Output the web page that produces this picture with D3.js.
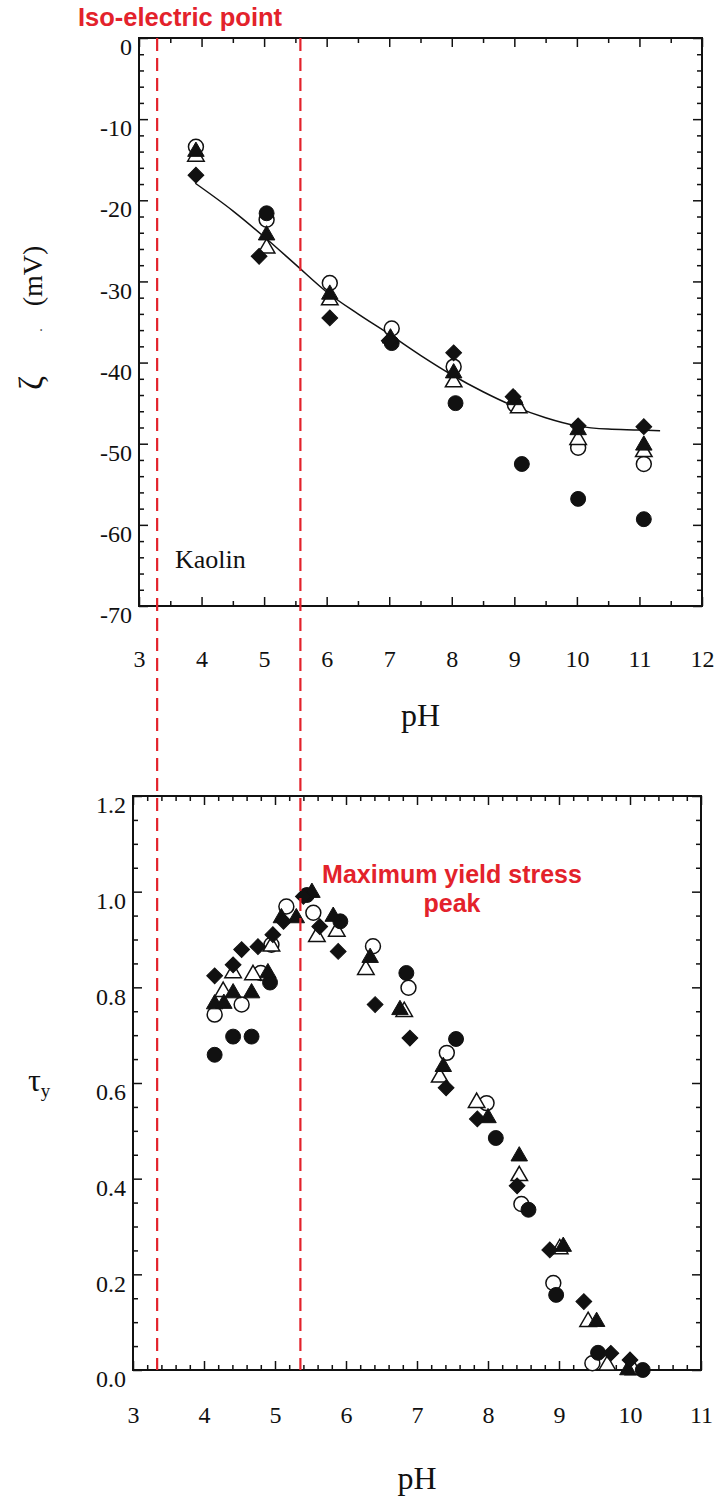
<!DOCTYPE html>
<html>
<head>
<meta charset="utf-8">
<script src="https://cdn.jsdelivr.net/npm/d3@7"></script>
<style>
  body { margin: 0; background: #fff; }
  svg { display: block; }
</style>
</head>
<body>
<div id="chart"></div>
<script>
// ---- top panel: zeta potential vs pH ----
const zetaTicksX = [3, 4, 5, 6, 7, 8, 9, 10, 11, 12];
const zetaTicksY = [0, -10, -20, -30, -40, -50, -60, -70];
const zetaFilledCircle = [[5.04, -21.6], [7.04, -37.6], [8.06, -45.0], [9.12, -52.5], [10.02, -56.8], [11.07, -59.3]];
const zetaOpenCircle = [[3.91, -13.4], [5.04, -22.4], [6.05, -30.2], [7.04, -35.8], [8.03, -40.5], [9.01, -45.2], [10.02, -50.5], [11.07, -52.5]];
const zetaFilledTriangle = [[3.91, -14.0], [5.04, -24.3], [6.05, -31.6], [7.02, -37.0], [8.03, -41.3], [9.01, -44.6], [10.02, -48.3], [11.07, -50.2]];
const zetaOpenTriangle = [[3.91, -14.6], [5.04, -25.9], [6.05, -32.3], [8.03, -42.4], [9.07, -45.6], [10.02, -49.5], [11.07, -51.0]];
const zetaDiamond = [[3.91, -16.9], [4.92, -26.9], [6.05, -34.5], [7.0, -37.3], [8.03, -38.8], [8.98, -44.2], [10.02, -47.8], [11.07, -47.9]];
const zetaFit = [[3.9, -17.9], [4.5, -21.3], [5, -24.5], [5.5, -27.9], [6, -31.3], [6.5, -34.0], [7, -36.5], [7.5, -39.1], [8, -41.5], [8.5, -43.6], [9, -45.4], [9.5, -46.8], [10, -47.8], [10.5, -48.2], [11, -48.3], [11.33, -48.4]];

// ---- bottom panel: yield stress vs pH ----
const tauTicksX = [3, 4, 5, 6, 7, 8, 9, 10, 11];
const tauTicksY = [0, 0.2, 0.4, 0.6, 0.8, 1.0, 1.2];
const tauFilledCircle = [[4.15, 0.659], [4.41, 0.697], [4.67, 0.697], [4.93, 0.81], [5.45, 0.993], [5.92, 0.938], [6.85, 0.830], [7.55, 0.692], [8.11, 0.485], [8.57, 0.335], [8.96, 0.157], [9.55, 0.036], [10.18, 0.0]];
const tauOpenCircle = [[4.15, 0.743], [4.53, 0.764], [4.8, 0.830], [4.95, 0.889], [5.16, 0.969], [5.54, 0.956], [6.38, 0.886], [6.88, 0.799], [7.42, 0.663], [7.98, 0.558], [8.47, 0.347], [8.92, 0.182], [9.47, 0.014]];
const tauFilledTriangle = [[4.15, 0.765], [4.28, 0.766], [4.41, 0.788], [4.67, 0.788], [4.9, 0.83], [5.09, 0.945], [5.3, 0.945], [5.52, 0.998], [5.82, 0.948], [6.34, 0.862], [6.76, 0.753], [7.37, 0.634], [8.0, 0.527], [8.44, 0.447], [9.06, 0.258], [9.53, 0.101], [9.97, 0.0]];
const tauOpenTriangle = [[4.27, 0.791], [4.41, 0.830], [4.69, 0.826], [4.95, 0.886], [5.59, 0.906], [5.87, 0.917], [6.28, 0.837], [6.82, 0.749], [7.32, 0.612], [7.84, 0.559], [8.44, 0.406], [9.01, 0.253], [9.41, 0.101], [9.68, 0.01], [10.05, 0.0]];
const tauDiamond = [[4.15, 0.824], [4.41, 0.847], [4.53, 0.879], [4.76, 0.885], [4.97, 0.910], [5.12, 0.938], [5.4, 0.99], [5.63, 0.927], [5.89, 0.875], [6.41, 0.764], [6.9, 0.694], [7.41, 0.59], [7.85, 0.525], [8.41, 0.385], [8.87, 0.251], [9.35, 0.143], [9.73, 0.035], [10.0, 0.021]];

// iso-electric point / max yield stress markers (pH, on the top axis)
const isoElectricPH = [3.29, 5.58];

const width = 721;
const height = 1498;
const red = "#e3222b";
const serif = "'Liberation Serif', 'Times New Roman', serif";
const sans = "'Liberation Sans', Arial, sans-serif";

const svg = (d3.select("#chart").append("svg")
             .attr("viewBox", [0, 0, width, height])
             .attr("width", width)
             .attr("height", height));

svg.append("rect").attr("width", width).attr("height", height).attr("fill", "#fff");

const topBox = {left: 139, right: 702, top: 38, bottom: 606};
const botBox = {left: 133, right: 701, top: 796, bottom: 1370};

const xZeta = d3.scaleLinear().domain([3, 12]).range([topBox.left, topBox.right]);
const yZeta = d3.scaleLinear().domain([-70, 0]).range([topBox.bottom, topBox.top]);
const xTau = d3.scaleLinear().domain([3, 11]).range([botBox.left, botBox.right]);
const yTau = d3.scaleLinear().domain([0, 1.2]).range([botBox.bottom, botBox.top]);

function styleAxis(g) {
  g.select(".domain").remove();
  g.selectAll("line").attr("stroke", "#111").attr("stroke-width", 1.5);
  g.selectAll("text")
    .attr("fill", "#111")
    .style("font-family", serif)
    .style("font-size", "24px");
}

function drawAxes(box, x, y, xMajor, xMinor, yMajor, yMinor, yFmt, xPad) {
  const g = svg.append("g");

  // minor ticks, all four sides, pointing inward
  g.append("g").attr("transform", `translate(0,${box.bottom})`)
    .call(d3.axisBottom(x).tickValues(xMinor).tickSize(-5).tickFormat("")).call(styleAxis);
  g.append("g").attr("transform", `translate(0,${box.top})`)
    .call(d3.axisTop(x).tickValues(xMinor).tickSize(-5).tickFormat("")).call(styleAxis);
  g.append("g").attr("transform", `translate(${box.left},0)`)
    .call(d3.axisLeft(y).tickValues(yMinor).tickSize(-5).tickFormat("")).call(styleAxis);
  g.append("g").attr("transform", `translate(${box.right},0)`)
    .call(d3.axisRight(y).tickValues(yMinor).tickSize(-5).tickFormat("")).call(styleAxis);

  // major ticks with labels
  g.append("g").attr("transform", `translate(0,${box.bottom})`)
    .call(d3.axisBottom(x).tickValues(xMajor).tickSize(-9).tickPadding(xPad).tickFormat((d) => String(d)))
    .call(styleAxis);
  g.append("g").attr("transform", `translate(0,${box.top})`)
    .call(d3.axisTop(x).tickValues(xMajor).tickSize(-9).tickFormat("")).call(styleAxis);
  g.append("g").attr("transform", `translate(${box.left},0)`)
    .call(d3.axisLeft(y).tickValues(yMajor).tickSize(-9).tickPadding(7).tickFormat(yFmt))
    .call(styleAxis)
    .call((a) => a.selectAll("text").attr("y", 9));
  g.append("g").attr("transform", `translate(${box.right},0)`)
    .call(d3.axisRight(y).tickValues(yMajor).tickSize(-9).tickFormat("")).call(styleAxis);

  g.append("rect")
    .attr("x", box.left).attr("y", box.top)
    .attr("width", box.right - box.left).attr("height", box.bottom - box.top)
    .attr("fill", "none").attr("stroke", "#111").attr("stroke-width", 2);
}

const circle = d3.symbol().type(d3.symbolCircle).size(175);
const triangle = d3.symbol().type(d3.symbolTriangle).size(118);
const diamond = d3.symbol().type(d3.symbolSquare).size(125);

function drawSeries(data, x, y, shape, filled, rotate) {
  svg.append("g")
    .selectAll("path")
    .data(data)
    .join("path")
    .attr("d", shape())
    .attr("transform", (d) => `translate(${x(d[0])},${y(d[1])})` + (rotate ? " rotate(45)" : ""))
    .attr("fill", filled ? "#111" : "#fff")
    .attr("stroke", "#111")
    .attr("stroke-width", filled ? 1 : 1.5);
}

function drawAll(x, y, s) {
  drawSeries(s.oc, x, y, circle, false);
  drawSeries(s.ot, x, y, triangle, false);
  drawSeries(s.fc, x, y, circle, true);
  drawSeries(s.ft, x, y, triangle, true);
  drawSeries(s.fd, x, y, diamond, true, true);
}

// top panel
drawAxes(topBox, xZeta, yZeta, zetaTicksX, d3.range(3.5, 12, 1), zetaTicksY,
         d3.range(-68, 0, 2).filter((v) => v % 10 !== 0), (d) => String(d), 44);

svg.append("path")
  .datum(zetaFit)
  .attr("fill", "none")
  .attr("stroke", "#111")
  .attr("stroke-width", 1.5)
  .attr("d", d3.line().x((d) => xZeta(d[0])).y((d) => yZeta(d[1])).curve(d3.curveMonotoneX));

drawAll(xZeta, yZeta, {oc: zetaOpenCircle, ot: zetaOpenTriangle, fc: zetaFilledCircle,
                       ft: zetaFilledTriangle, fd: zetaDiamond});

svg.append("text")
  .attr("x", 175).attr("y", 568)
  .style("font-family", serif).style("font-size", "26px")
  .attr("fill", "#111")
  .text("Kaolin");

svg.append("text")
  .attr("x", xZeta(7.5)).attr("y", 726)
  .attr("text-anchor", "middle")
  .style("font-family", serif).style("font-size", "32px")
  .attr("fill", "#111")
  .text("pH");

// rotated y title: zeta, small dot, (mV)
const zTitle = svg.append("g").attr("transform", "translate(42,0) rotate(-90)")
  .style("font-family", serif).attr("fill", "#111").attr("text-anchor", "middle");
zTitle.append("text").attr("x", -383).attr("y", 0).style("font-size", "34px").text("ζ");
zTitle.append("text").attr("x", -330).attr("y", 0).style("font-size", "14px").text(".");
zTitle.append("text").attr("x", -276).attr("y", 0).style("font-size", "28px").text("(mV)");

// bottom panel
drawAxes(botBox, xTau, yTau, tauTicksX, d3.range(3.2, 11, 0.2).filter((v) => Math.abs(v - Math.round(v)) > 0.01),
         tauTicksY, d3.range(0.05, 1.2, 0.05).filter((v) => Math.abs(v * 5 - Math.round(v * 5)) > 0.01),
         d3.format(".1f"), 36);

drawAll(xTau, yTau, {oc: tauOpenCircle, ot: tauOpenTriangle, fc: tauFilledCircle,
                     ft: tauFilledTriangle, fd: tauDiamond});

svg.append("text")
  .attr("x", xTau(7)).attr("y", 1489)
  .attr("text-anchor", "middle")
  .style("font-family", serif).style("font-size", "32px")
  .attr("fill", "#111")
  .text("pH");

const tLabel = svg.append("text")
  .attr("x", 28).attr("y", 1091)
  .style("font-family", serif)
  .attr("fill", "#111");
tLabel.append("tspan").style("font-size", "32px").text("τ");
tLabel.append("tspan").style("font-size", "19px").attr("dy", 6).text("y");

// dashed iso-electric lines spanning both panels
svg.append("g")
  .selectAll("line")
  .data(isoElectricPH)
  .join("line")
  .attr("x1", (d) => xZeta(d)).attr("x2", (d) => xZeta(d))
  .attr("y1", topBox.top).attr("y2", botBox.bottom)
  .attr("stroke", red)
  .attr("stroke-width", 2.2)
  .attr("stroke-dasharray", "13 7");

svg.append("text")
  .attr("x", 78).attr("y", 26)
  .style("font-family", sans)
  .style("font-size", "25.5px").style("font-weight", "bold")
  .attr("fill", red)
  .text("Iso-electric point");

const peak = svg.append("text")
  .attr("text-anchor", "middle")
  .style("font-family", sans)
  .style("font-size", "25px").style("font-weight", "bold")
  .attr("fill", red);
peak.append("tspan").attr("x", 452).attr("y", 883).text("Maximum yield stress");
peak.append("tspan").attr("x", 452).attr("y", 912).text("peak");
</script>
</body>
</html>
